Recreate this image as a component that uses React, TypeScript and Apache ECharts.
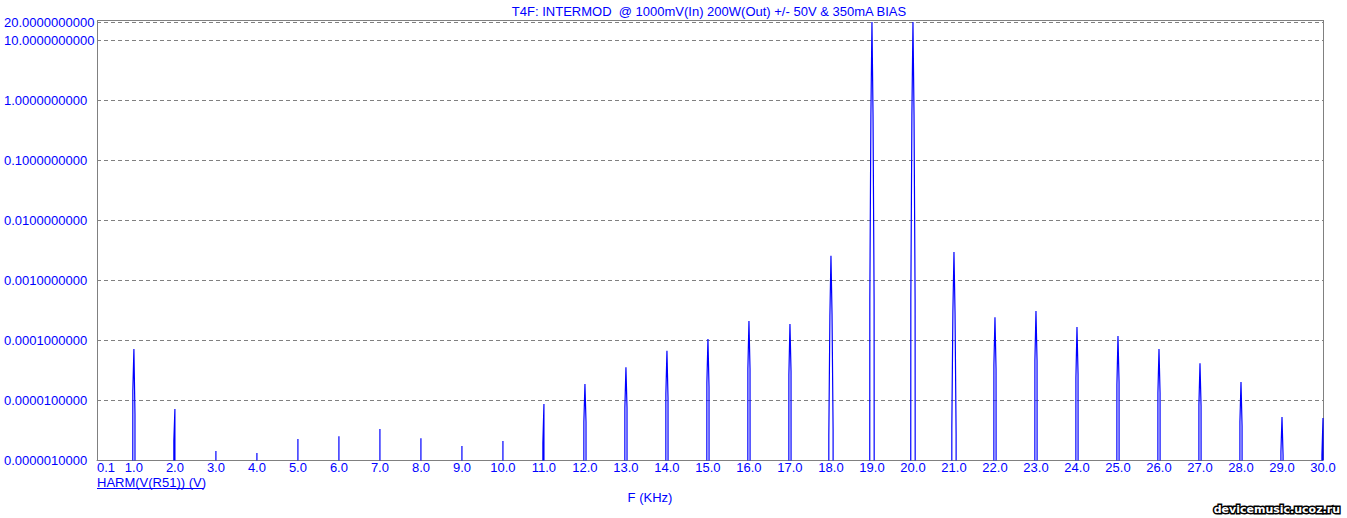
import { useEffect, useRef } from "react";
import * as echarts from "echarts";

// Harmonic frequencies (kHz)
const harmonics = [1, 2, 3, 4, 5, 6, 7, 8, 9, 10, 11, 12, 13, 14, 15, 16, 17, 18, 19, 20, 21, 22, 23, 24, 25, 26, 27, 28, 29, 30];
// x-axis tick labels (kHz)
const xTicks = [0.1, 1, 2, 3, 4, 5, 6, 7, 8, 9, 10, 11, 12, 13, 14, 15, 16, 17, 18, 19, 20, 21, 22, 23, 24, 25, 26, 27, 28, 29, 30];
// floor value (far below the visible axis range)
const FLOOR = 1e-40;
// peak amplitude of each harmonic (V)
const peakValues = [7.1e-5, 7.1e-6, 1.41e-6, 1.31e-6, 2.24e-6, 2.5e-6, 3.3e-6, 2.3e-6, 1.71e-6, 2.07e-6, 8.6e-6, 1.85e-5, 3.5e-5, 6.6e-5, 1.04e-4, 2.07e-4, 1.85e-4, 2.54e-3, 20, 20, 2.93e-3, 2.4e-4, 3.04e-4, 1.65e-4, 1.17e-4, 7.1e-5, 4.1e-5, 2.0e-5, 5.2e-6, 5.0e-6];
// neighbouring bin just below each harmonic
const innerLeft = [1.41e-5, 2.07e-6, FLOOR, FLOOR, FLOOR, FLOOR, FLOOR, FLOOR, FLOOR, FLOOR, 1.9e-6, 4.3e-6, 7.4e-6, 1.26e-5, 1.92e-5, 3.3e-5, 2.6e-5, 2.5e-4, 0.56, 0.56, 3.04e-4, 3.8e-5, 4.5e-5, 2.3e-5, 1.78e-5, 1.31e-5, 8.3e-6, 4.3e-6, 1.36e-6, 1.2e-6];
// neighbouring bin just above each harmonic
const innerRight = [5.8e-6, FLOOR, FLOOR, FLOOR, FLOOR, FLOOR, FLOOR, FLOOR, FLOOR, FLOOR, FLOOR, 4.3e-6, 7.4e-6, 1.08e-5, 1.65e-5, 3.3e-5, 3.0e-5, 2.7e-4, 0.56, 0.56, 2.8e-4, 3.3e-5, 4.5e-5, 2.7e-5, 2.0e-5, 1.31e-5, 7.9e-6, 3.7e-6, 1.2e-6, FLOOR];
// second bin below / above
const outerLeft = [FLOOR, FLOOR, FLOOR, FLOOR, FLOOR, FLOOR, FLOOR, FLOOR, FLOOR, FLOOR, FLOOR, FLOOR, FLOOR, FLOOR, FLOOR, FLOOR, FLOOR, 2.5e-6, 4.8e-4, 4.8e-4, 3.5e-6, FLOOR, FLOOR, FLOOR, FLOOR, FLOOR, FLOOR, FLOOR, FLOOR, FLOOR];
const outerRight = [FLOOR, FLOOR, FLOOR, FLOOR, FLOOR, FLOOR, FLOOR, FLOOR, FLOOR, FLOOR, FLOOR, FLOOR, FLOOR, FLOOR, FLOOR, FLOOR, FLOOR, 3.2e-6, 4.8e-4, 4.8e-4, 2.7e-6, FLOOR, FLOOR, FLOOR, FLOOR, FLOOR, FLOOR, FLOOR, FLOOR, FLOOR];
const BIN = 0.026; // kHz, FFT bin spacing

const titleText = "T4F: INTERMOD  @ 1000mV(In) 200W(Out) +/- 50V & 350mA BIAS";
const traceName = "HARM(V(R51)) (V)";
const xAxisName = "F (KHz)";
const watermark = "devicemusic.ucoz.ru";

const BLUE = "#0000ff";
const GRAY = "#808080";
const FONT = "'Liberation Sans', Arial, sans-serif";

function buildData(): number[][] {
  const out: number[][] = [[0.1, FLOOR]];
  harmonics.forEach((f, i) => {
    out.push([f - 3 * BIN, FLOOR]);
    out.push([f - 2 * BIN, outerLeft[i]]);
    out.push([f - BIN, innerLeft[i]]);
    out.push([f, peakValues[i]]);
    out.push([f + BIN, innerRight[i]]);
    out.push([f + 2 * BIN, outerRight[i]]);
    out.push([f + 3 * BIN, FLOOR]);
  });
  return out;
}

export default function App() {
  const ref = useRef<HTMLDivElement>(null);
  useEffect(() => {
    const chart = echarts.init(ref.current!, null, { renderer: "svg" });
    const L = 97, R = 1323, T = 22, B = 460;
    chart.setOption({
      animation: false,
      backgroundColor: "#ffffff",
      grid: { left: L, right: 1347 - R, top: T, bottom: 518 - B, containLabel: false },
      xAxis: {
        type: "value",
        min: 0.1,
        max: 30,
        axisLine: { show: true, onZero: false, lineStyle: { color: GRAY, width: 1 } },
        axisTick: { show: false },
        splitLine: { show: false },
        axisLabel: {
          color: BLUE,
          fontFamily: FONT,
          fontSize: 13,
          margin: 1,
          lineHeight: 13,
          customValues: xTicks,
          showMinLabel: true,
          showMaxLabel: true,
          alignMinLabel: "left",
          formatter: (v: number) => v.toFixed(1),
        },
      },
      yAxis: {
        type: "log",
        logBase: 10,
        min: 1e-6,
        max: 20,
        axisLine: { show: true, lineStyle: { color: GRAY, width: 1 } },
        axisTick: { show: false },
        splitLine: { show: true, lineStyle: { color: GRAY, width: 1, type: [4, 3] } },
        axisLabel: {
          color: BLUE,
          fontFamily: FONT,
          fontSize: 13,
          align: "left",
          margin: 93,
          showMinLabel: true,
          showMaxLabel: true,
          formatter: (v: number) => Number(v.toPrecision(6)).toFixed(10),
        },
      },
      series: [
        {
          type: "line",
          data: buildData(),
          showSymbol: false,
          symbol: "none",
          clip: true,
          lineStyle: { color: BLUE, width: 1.2 },
          itemStyle: { color: BLUE },
        },
      ],
      graphic: [
        { type: "line", shape: { x1: L, y1: 20.5, x2: R, y2: 20.5 }, style: { stroke: GRAY, lineWidth: 1 } },
        { type: "line", shape: { x1: R + 0.5, y1: 20, x2: R + 0.5, y2: B }, style: { stroke: GRAY, lineWidth: 1 } },
        { type: "line", shape: { x1: L + 0.5, y1: 20, x2: L + 0.5, y2: T }, style: { stroke: GRAY, lineWidth: 1 } },
        {
          type: "text",
          x: 709,
          y: 11,
          style: { text: titleText, fill: BLUE, font: `13px ${FONT}`, textAlign: "center", textVerticalAlign: "middle" },
        },
        {
          type: "text",
          x: 97,
          y: 482,
          style: { text: traceName, fill: BLUE, font: `13px ${FONT}`, textAlign: "left", textVerticalAlign: "middle" },
        },
        { type: "line", shape: { x1: 97, y1: 488.5, x2: 204, y2: 488.5 }, style: { stroke: BLUE, lineWidth: 1 } },
        {
          type: "text",
          x: 650,
          y: 497,
          style: { text: xAxisName, fill: BLUE, font: `13px ${FONT}`, textAlign: "center", textVerticalAlign: "middle" },
        },
        {
          type: "text",
          x: 1340,
          y: 509,
          style: {
            text: watermark,
            fill: "#ffffff",
            stroke: "#000000",
            lineWidth: 3,
            strokeFirst: true,
            font: `bold 11px 'DejaVu Sans', Verdana, sans-serif`,
            textAlign: "right",
            textVerticalAlign: "middle",
          },
        },
      ],
    });
    return () => chart.dispose();
  }, []);
  return (
    <div
      ref={ref}
      style={{ position: "fixed", left: 0, top: 0, width: 1347, height: 518, background: "#fff" }}
    />
  );
}
